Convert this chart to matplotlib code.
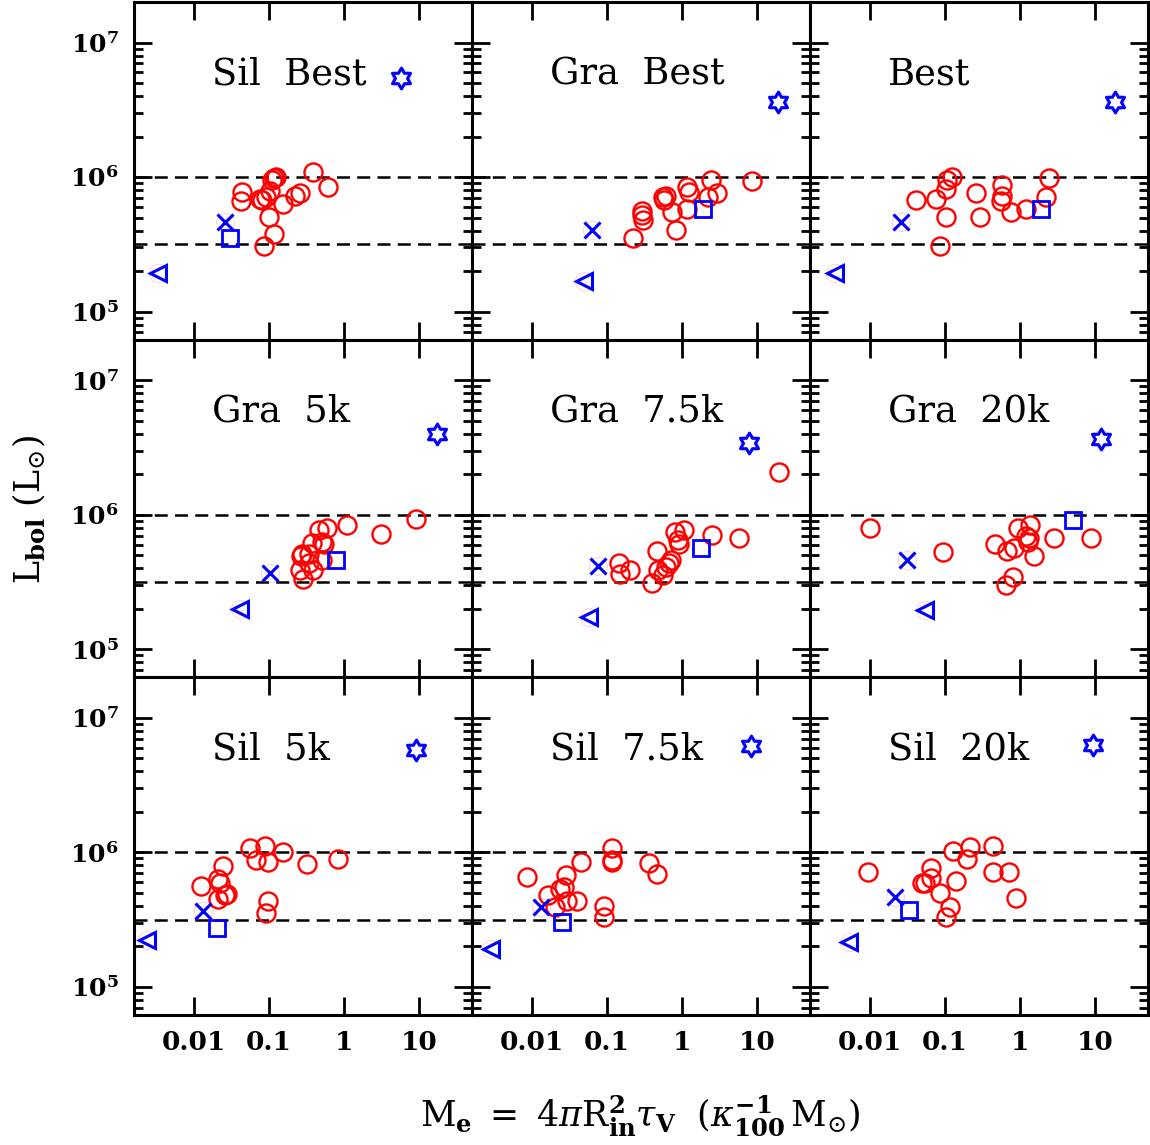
import numpy as np
import matplotlib
matplotlib.use("Agg")
import matplotlib.pyplot as plt
from matplotlib.path import Path
from matplotlib.ticker import LogLocator, NullFormatter, FixedLocator, FixedFormatter

plt.rcParams['font.family'] = ['DejaVu Serif']
plt.rcParams['mathtext.fontset'] = 'dejavuserif'

# panel names, row by row
titles = ['Sil  Best', 'Gra  Best', 'Best',
          'Gra  5k', 'Gra  7.5k', 'Gra  20k',
          'Sil  5k', 'Sil  7.5k', 'Sil  20k']

# red circles: log10(M_e) and log10(L_bol), one pair per panel
sil_best_m = [-1.36, -1.38, -1.12, -1.09, -1.04, -0.99, -0.96, -0.93, -0.91, -0.81, -0.65, -0.59, -0.42, -0.22, -1.00, -0.93, -1.07]
sil_best_l = [5.89, 5.82, 5.84, 5.83, 5.85, 5.90, 5.98, 5.99, 6.00, 5.80, 5.86, 5.88, 6.04, 5.93, 5.70, 5.58, 5.49]
gra_best_m = [-0.65, -0.54, -0.53, -0.52, -0.26, -0.24, -0.22, -0.14, -0.08, 0.07, 0.09, 0.07, 0.34, 0.39, 0.46, 0.93]
gra_best_l = [5.55, 5.75, 5.72, 5.68, 5.85, 5.83, 5.86, 5.74, 5.61, 5.93, 5.89, 5.76, 5.85, 5.98, 5.88, 5.97]
best_m = [-1.38, -1.12, -1.07, -0.99, -0.98, -0.97, -0.90, -0.58, -0.53, -0.24, -0.24, -0.25, -0.12, 0.08, 0.34, 0.39]
best_l = [5.83, 5.84, 5.49, 5.70, 5.91, 5.98, 6.00, 5.88, 5.70, 5.94, 5.86, 5.82, 5.74, 5.76, 5.85, 5.99]
gra5_m = [-0.55, -0.59, -0.58, -0.56, -0.47, -0.43, -0.41, -0.47, -0.33, -0.29, -0.27, -0.29, -0.23, 0.04, 0.49, 0.96]
gra5_l = [5.52, 5.59, 5.69, 5.71, 5.71, 5.79, 5.59, 5.64, 5.89, 5.80, 5.78, 5.66, 5.90, 5.92, 5.86, 5.97]
gra75_m = [1.29, -0.84, -0.83, -0.69, -0.40, -0.33, -0.32, -0.26, -0.22, -0.17, -0.15, -0.09, -0.05, -0.04, 0.03, 0.40, 0.76]
gra75_l = [6.32, 5.64, 5.56, 5.59, 5.49, 5.73, 5.59, 5.55, 5.61, 5.64, 5.66, 5.87, 5.81, 5.78, 5.89, 5.85, 5.83]
gra20_m = [-2.00, -1.02, -0.34, -0.18, -0.08, -0.03, -0.19, -0.09, 0.08, 0.10, 0.13, 0.12, 0.18, 0.45, 0.95]
gra20_l = [5.90, 5.72, 5.78, 5.73, 5.75, 5.90, 5.48, 5.54, 5.84, 5.80, 5.92, 5.83, 5.69, 5.83, 5.83]
sil5_m = [-1.91, -1.68, -1.65, -1.68, -1.59, -1.56, -1.61, -1.26, -1.18, -1.05, -1.02, -1.02, -1.04, -0.82, -0.49, -0.08]
sil5_l = [5.75, 5.80, 5.77, 5.65, 5.68, 5.69, 5.90, 6.03, 5.94, 6.05, 5.93, 5.64, 5.55, 6.00, 5.91, 5.95]
sil75_m = [-2.06, -1.78, -1.69, -1.63, -1.57, -1.55, -1.53, -1.40, -1.35, -1.04, -1.04, -0.93, -0.94, -0.94, -0.44, -0.33]
sil75_l = [5.82, 5.68, 5.59, 5.73, 5.74, 5.83, 5.64, 5.64, 5.93, 5.60, 5.52, 6.03, 5.94, 5.93, 5.92, 5.84]
sil20_m = [-2.02, -1.30, -1.26, -1.18, -1.18, -1.06, -0.99, -0.93, -0.89, -0.85, -0.70, -0.66, -0.36, -0.36, -0.15, -0.05]
sil20_l = [5.85, 5.77, 5.77, 5.81, 5.88, 5.70, 5.52, 5.59, 6.01, 5.79, 5.95, 6.04, 6.05, 5.85, 5.85, 5.66]

circ_m = [sil_best_m, gra_best_m, best_m, gra5_m, gra75_m, gra20_m, sil5_m, sil75_m, sil20_m]
circ_l = [sil_best_l, gra_best_l, best_l, gra5_l, gra75_l, gra20_l, sil5_l, sil75_l, sil20_l]

# blue symbols, one value per panel (same order as titles), log10 units
star_m = [0.76, 1.27, 1.27, 1.23, 0.89, 1.08, 0.96, 0.92, 0.97]
star_l = [6.74, 6.56, 6.56, 6.60, 6.53, 6.56, 6.76, 6.79, 6.80]
tri_m = [-2.48, -1.31, -2.47, -1.39, -1.24, -1.26, -2.63, -2.55, -2.28]
tri_l = [5.29, 5.23, 5.29, 5.30, 5.24, 5.29, 5.35, 5.28, 5.33]
x_m = [-1.59, -1.20, -1.58, -0.99, -1.12, -1.50, -1.88, -1.88, -1.67]
x_l = [5.67, 5.61, 5.67, 5.57, 5.62, 5.66, 5.56, 5.59, 5.67]
sq_m = [-1.52, 0.28, 0.28, -0.11, 0.25, 0.70, -1.69, -1.60, -1.48]
sq_l = [5.55, 5.76, 5.76, 5.66, 5.75, 5.96, 5.44, 5.48, 5.57]

lum_lines = [10**5.5, 1e6]

# hexagram marker (outline of star of David)
ang = np.deg2rad(90 + 30 * np.arange(12))
rad = np.where(np.arange(12) % 2 == 0, 1.0, 1 / np.sqrt(3))
verts = np.column_stack([rad * np.cos(ang), rad * np.sin(ang)])
verts = np.vstack([verts, verts[:1]])
hexagram = Path(verts, [Path.MOVETO] + [Path.LINETO] * 11 + [Path.CLOSEPOLY])

fig, axes = plt.subplots(3, 3, figsize=(11.5, 11.45), dpi=100, sharex=True, sharey=True)
fig.subplots_adjust(left=0.1165, right=0.998, bottom=0.1135, top=0.998, wspace=0, hspace=0)

for i, ax in enumerate(axes.flat):
    ax.set_xscale('log')
    ax.set_yscale('log')
    ax.set_xlim(10**-2.8, 10**1.7)
    ax.set_ylim(10**4.79, 10**7.3)

    for yl in lum_lines:
        ax.axhline(yl, color='black', lw=1.8, ls=(0, (5.2, 2.9)), zorder=1)

    ax.plot(10**np.array(circ_m[i]), 10**np.array(circ_l[i]), 'o', ms=13, mfc='none',
            mec='red', mew=1.7, zorder=3)

    bm = 10**np.array([star_m[i], tri_m[i], x_m[i], sq_m[i]])
    bl = 10**np.array([star_l[i], tri_l[i], x_l[i], sq_l[i]])
    # faint red ring under blue symbols
    ax.plot(bm[:3], bl[:3], 'o', ms=13, mfc='none', mec='red', mew=0.5, alpha=0.25, zorder=2)
    ax.plot(bm[0], bl[0], marker=hexagram, ms=15, mfc='white', mec='blue', mew=2.2, ls='none', zorder=4)
    ax.plot(bm[1], bl[1], marker='<', ms=11, mfc='none', mec='blue', mew=2.2, ls='none', zorder=4)
    ax.plot(bm[2], bl[2], marker='x', ms=11, mec='blue', mew=2.2, ls='none', zorder=4)
    ax.plot(bm[3], bl[3], marker='s', ms=11, mfc='none', mec='blue', mew=2.0, ls='none', zorder=4)

    ax.text(0.231, 0.757, titles[i], transform=ax.transAxes, fontsize=26.5,
            ha='left', va='baseline')

    for s in ax.spines.values():
        s.set_linewidth(2.2)

    ax.xaxis.set_major_locator(FixedLocator([0.01, 0.1, 1, 10]))
    ax.xaxis.set_major_formatter(FixedFormatter(['0.01', '0.1', '1', '10']))
    ax.xaxis.set_minor_locator(FixedLocator([]))
    ax.yaxis.set_major_locator(FixedLocator([1e5, 1e6, 1e7]))
    ax.yaxis.set_major_formatter(FixedFormatter([r'$\mathbf{10^{5}}$', r'$\mathbf{10^{6}}$', r'$\mathbf{10^{7}}$']))
    ax.yaxis.set_minor_locator(LogLocator(base=10, subs=np.arange(2, 10), numticks=20))
    ax.yaxis.set_minor_formatter(NullFormatter())
    ax.tick_params(which='both', direction='in', top=True, right=True, width=2)
    ax.tick_params(which='major', length=13)
    ax.tick_params(which='minor', length=6.5)
    ax.tick_params(axis='x', pad=11, labelsize=19)
    ax.tick_params(axis='y', pad=11, labelsize=18)
    for lab in ax.get_xticklabels():
        lab.set_fontweight('bold')

fig.text(0.557, 0.026,
         r'$\mathrm{M}_{\mathbf{e}}\ =\ 4\pi\mathrm{R}^{\mathbf{2}}_{\mathbf{in}}\tau_{\mathbf{V}}\ \ (\kappa^{\mathbf{-1}}_{\mathbf{100}}\,\mathrm{M}_{\odot})$',
         ha='center', va='center', fontsize=25)
fig.text(0.026, 0.555, r'$\mathrm{L}_{\mathbf{bol}}\ (\mathrm{L}_{\odot})$',
         ha='center', va='center', rotation=90, fontsize=25)

fig.savefig('out.png', dpi=100)
